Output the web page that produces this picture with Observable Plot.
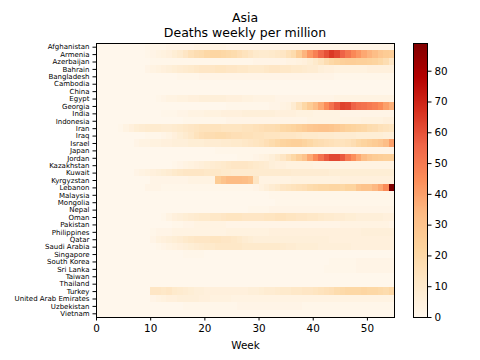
<!DOCTYPE html>
<html><head><meta charset="utf-8">
<script src="https://cdn.jsdelivr.net/npm/d3@7"></script>
<script src="https://cdn.jsdelivr.net/npm/@observablehq/plot@0.6"></script>
<style>
body{margin:0;background:#fff;font-family:"DejaVu Sans",sans-serif;}
#wrap{position:relative;width:480px;height:360px;overflow:hidden;}
#wrap svg{position:absolute;top:0;}
.t{position:absolute;left:0;width:490px;text-align:center;font-size:12.5px;line-height:15px;color:#000;font-family:"DejaVu Sans",sans-serif;}
</style></head><body><div id="wrap"></div>
<script>
const titleText = "Asia";
const subtitleText = "Deaths weekly per million";
const xLabel = "Week";
const xTicks = [0, 10, 20, 30, 40, 50];
const cbTicks = [0, 10, 20, 30, 40, 50, 60, 70, 80];

const countries = ["Afghanistan","Armenia","Azerbaijan","Bahrain","Bangladesh","Cambodia","China","Egypt","Georgia","India","Indonesia","Iran","Iraq","Israel","Japan","Jordan","Kazakhstan","Kuwait","Kyrgyzstan","Lebanon","Malaysia","Mongolia","Nepal","Oman","Pakistan","Philippines","Qatar","Saudi Arabia","Singapore","South Korea","Sri Lanka","Taiwan","Thailand","Turkey","United Arab Emirates","Uzbekistan","Vietnam"];

const afghanistan = [0,0,0,0,0,0,0,0,0,1, 1,1,1,2,2,2,2,2,3,3, 3,3,3,3,2,2,2,2,2,2, 2,2,2,2,2,2,2,2,2,2, 2,2,2,2,2,2,2,2,2,2, 2,2,2,2,2];
const armenia = [0,0,0,0,0,0,0,0,0,1, 2,3,4,5,7,9,12,15,17,18, 20,21,21,20,19,18,16,14,12,10, 9,9,10,11,12,15,18,26,35,42, 48,55,60,65,62,56,51,46,42,38, 35,32,28,26,25];
const azerbaijan = [0,0,0,0,0,0,0,0,0,0, 1,1,1,1,1,1,1,1,1,1, 1,1,1,1,1,1,1,1,1,2, 2,2,2,2,2,3,3,4,5,7, 10,13,17,20,22,24,25,25,24,24, 23,22,20,17,12];
const bahrain = [0,0,0,0,0,0,0,0,0,2, 3,4,5,6,7,8,9,10,11,12, 12,12,13,13,12,12,11,11,10,10, 10,11,12,12,11,11,10,10,9,8, 8,6,5,5,4,4,4,4,4,4, 5,5,5,5,5];
const bangladesh = [0,0,0,0,0,0,0,0,0,0, 0,0,0,0,0,1,1,1,1,2, 2,2,2,2,2,2,2,2,2,2, 2,2,2,2,2,2,2,2,2,2, 2,2,2,2,1,1,1,1,1,1, 1,1,1,1,1];
const cambodia = [0,0,0,0,0,0,0,0,0,0, 0,0,0,0,0,0,0,0,0,0, 0,0,0,0,0,0,0,0,0,0, 0,0,0,0,0,0,0,0,0,0, 0,0,0,0,0,0,0,0,0,0, 0,0,0,0,0];
const china = [0,0,0,0,0,0,0,0,0,0, 0,0,0,0,0,0,0,0,0,0, 0,0,0,0,0,0,0,0,0,0, 0,0,0,0,0,0,0,0,0,0, 0,0,0,0,0,0,0,0,0,0, 0,0,0,0,0];
const egypt = [0,0,0,0,0,0,0,0,0,0, 0,1,2,3,3,4,4,5,5,6, 6,6,6,6,5,5,5,4,4,3, 3,3,3,2,2,2,2,2,2,2, 2,2,2,2,3,3,3,3,3,3, 3,3,3,3,3];
const georgia = [0,0,0,0,0,0,0,0,0,0, 0,0,0,0,0,0,0,0,0,0, 0,0,0,0,1,1,1,1,1,1, 1,1,2,2,3,4,8,14,20,26, 32,38,45,52,58,63,62,56,53,52, 50,48,45,40,36];
const india = [0,0,0,0,0,0,0,0,0,0, 0,0,1,1,1,2,2,3,3,3, 4,4,4,5,5,5,5,6,6,6, 6,6,6,5,5,5,5,4,4,4, 3,3,3,3,3,2,2,2,2,2, 2,2,2,2,2];
const indonesia = [0,0,0,0,0,0,0,0,0,0, 0,0,0,0,0,0,1,1,1,1, 1,1,1,1,2,2,2,2,2,2, 2,2,2,2,2,2,2,2,2,3, 3,3,3,3,3,3,3,3,3,4, 4,4,4,5,5];
const iran = [0,0,0,0,1,3,5,7,8,9, 9,9,8,8,9,10,11,12,13,14, 14,14,14,13,13,13,13,14,14,15, 16,17,17,18,20,21,22,24,26,28, 29,30,30,29,27,25,23,22,21,20, 18,17,15,14,13];
const iraq = [0,0,0,0,0,0,0,0,0,1, 1,1,2,3,5,7,9,11,14,16, 17,17,18,18,17,16,16,15,15,14, 14,13,13,13,12,12,12,11,10,10, 10,9,9,9,8,8,8,8,7,7, 7,7,7,6,6];
const israel = [0,0,0,0,0,0,0,2,3,3, 4,4,5,5,6,6,6,7,7,7, 8,8,8,9,9,10,10,11,12,13, 14,16,18,20,22,23,24,24,22,20, 18,17,16,15,14,14,15,17,20,22, 24,26,28,32,40];
const japan = [0,0,0,0,0,0,0,0,0,0, 0,0,0,0,0,0,0,0,0,0, 0,0,1,1,1,1,1,1,1,1, 1,1,1,1,1,1,1,1,1,1, 1,1,1,1,1,2,2,2,2,2, 2,2,2,2,2];
const jordan = [0,0,0,0,0,0,0,0,0,0, 0,0,0,0,0,0,0,0,0,0, 0,0,0,0,0,0,1,1,1,2, 3,4,6,9,12,16,20,25,30,38, 45,52,58,62,62,58,50,44,38,32, 28,26,25,24,24];
const kazakhstan = [0,0,0,0,0,0,0,0,0,0, 0,0,0,0,1,2,3,4,5,6, 7,8,9,10,11,12,12,12,11,10, 9,8,6,5,5,4,4,4,4,4, 3,3,3,3,3,3,3,3,3,3, 3,3,3,3,3];
const kuwait = [0,0,0,0,0,0,0,2,3,4, 5,6,7,8,10,11,12,12,12,12, 11,11,11,10,10,9,9,9,9,9, 9,9,9,9,9,9,8,8,8,8, 8,8,8,7,7,7,7,7,7,7, 7,7,7,7,7];
const kyrgyzstan = [0,0,0,0,0,0,0,0,0,0, 2,2,2,2,2,2,2,3,3,3, 3,3,26,30,33,33,33,32,30,12, 3,3,3,3,3,3,4,4,4,4, 4,4,4,4,4,5,5,5,5,5, 5,5,5,5,5];
const lebanon = [0,0,0,0,0,0,0,0,0,2, 2,2,1,1,1,1,1,1,1,1, 1,1,1,1,1,1,1,1,1,2, 4,6,8,10,12,13,14,15,16,18, 19,20,20,21,21,20,22,22,28,30, 30,34,38,45,89];
const malaysia = [0,0,0,0,0,0,0,0,0,0, 0,0,0,0,0,0,0,0,0,0, 0,0,0,0,0,0,0,0,0,0, 0,0,1,1,1,1,1,1,1,1, 1,1,1,1,1,1,1,1,1,1, 1,1,1,1,1];
const mongolia = [0,0,0,0,0,0,0,0,0,0, 0,0,0,0,0,0,0,0,0,0, 0,0,0,0,0,0,0,0,0,0, 0,0,0,1,1,1,1,1,1,1, 1,1,1,1,1,1,1,1,1,1, 1,1,1,1,1];
const nepal = [0,0,0,0,0,0,0,0,0,0, 0,0,0,0,0,0,0,0,0,0, 0,0,0,0,0,0,0,0,1,1, 1,1,2,2,2,2,2,2,2,2, 2,2,2,2,2,2,2,2,2,2, 2,2,2,2,2];
const oman = [0,0,0,0,0,0,0,0,0,0, 0,0,1,3,5,6,7,8,9,10, 10,11,11,12,13,13,13,12,12,12, 12,13,13,14,14,13,13,12,12,11, 11,10,9,9,8,8,7,7,6,6, 6,6,6,5,5];
const pakistan = [0,0,0,0,0,0,0,0,0,0, 0,0,0,0,1,1,2,2,3,3, 3,3,3,3,2,2,2,2,2,2, 2,2,2,2,2,2,2,2,2,2, 2,2,2,2,2,3,3,3,3,3, 3,3,3,3,2];
const philippines = [0,0,0,0,0,0,0,0,0,0, 1,2,2,2,3,3,3,3,3,3, 3,3,3,3,4,4,4,4,4,4, 4,4,5,5,5,5,5,5,5,5, 5,5,5,5,5,5,5,5,5,6, 6,6,6,6,6];
const qatar = [0,0,0,0,0,0,0,0,0,0, 2,4,5,6,7,8,10,11,12,12, 12,13,13,12,12,11,10,8,7,6, 6,6,6,6,6,6,6,6,6,6, 6,6,6,5,5,5,5,5,5,5, 5,5,5,5,5];
const saudiArabia = [0,0,0,0,0,0,0,0,0,0, 0,1,2,3,4,5,6,7,8,9, 10,10,11,11,11,11,11,10,10,10, 10,10,10,10,9,8,8,7,7,7, 7,6,6,6,6,6,6,5,5,5, 5,5,5,5,5];
const singapore = [0,0,0,0,0,0,0,0,0,0, 0,0,0,0,0,0,1,1,1,1, 0,0,0,0,0,0,0,0,0,0, 0,0,0,0,0,0,0,0,0,0, 0,0,0,0,0,0,0,0,0,0, 0,0,0,0,0];
const southKorea = [0,0,0,0,0,0,0,0,0,0, 0,0,0,0,0,0,0,0,0,0, 0,0,0,0,0,0,0,0,0,0, 0,0,0,0,0,0,0,0,0,0, 0,0,0,1,1,1,1,1,2,2, 2,2,2,2,2];
const sriLanka = [0,0,0,0,0,0,0,0,0,0, 0,0,0,0,0,0,0,0,0,0, 0,0,0,0,0,0,0,0,0,0, 0,0,0,0,0,0,0,0,0,0, 0,0,1,1,1,1,1,1,2,2, 2,2,2,2,2];
const taiwan = [0,0,0,0,0,0,0,0,0,0, 0,0,0,0,0,0,0,0,0,0, 0,0,0,0,0,0,0,0,0,0, 0,0,0,0,0,0,0,0,0,0, 0,0,0,0,0,0,0,0,0,0, 0,0,0,0,0];
const thailand = [0,0,0,0,0,0,0,0,0,0, 0,0,0,0,0,0,0,0,0,0, 0,0,0,0,0,0,0,0,0,0, 0,0,0,0,0,0,0,0,0,0, 0,0,0,0,0,0,0,0,0,0, 0,0,0,0,0];
const turkey = [0,0,0,0,0,0,0,0,0,0, 12,12,11,12,10,9,8,7,6,6, 5,5,5,5,5,5,5,5,6,6, 7,8,8,9,10,10,11,11,12,12, 13,14,15,16,18,19,20,20,20,21, 20,20,19,18,20];
const uae = [0,0,0,0,0,0,0,0,0,0, 2,3,4,5,5,6,6,6,6,5, 5,4,4,4,4,3,3,3,3,3, 3,3,3,3,3,3,3,3,3,3, 3,3,3,3,3,3,3,3,3,3, 3,3,3,3,3];
const uzbekistan = [0,0,0,0,0,0,0,0,0,0, 0,0,0,0,0,0,1,1,1,1, 1,1,1,1,1,1,2,2,2,2, 2,2,2,2,2,2,2,2,1,1, 1,1,1,1,1,1,1,1,1,1, 1,1,1,1,1];
const vietnam = [0,0,0,0,0,0,0,0,0,0, 0,0,0,0,0,0,0,0,0,0, 0,0,0,0,0,0,0,0,0,0, 0,0,0,0,0,0,0,0,0,0, 0,0,0,0,0,0,0,0,0,0, 0,0,0,0,0];

const series = [afghanistan, armenia, azerbaijan, bahrain, bangladesh, cambodia, china, egypt, georgia, india, indonesia, iran, iraq, israel, japan, jordan, kazakhstan, kuwait, kyrgyzstan, lebanon, malaysia, mongolia, nepal, oman, pakistan, philippines, qatar, saudiArabia, singapore, southKorea, sriLanka, taiwan, thailand, turkey, uae, uzbekistan, vietnam];

const rows = [];
countries.forEach((c, i) => series[i].forEach((v, w) => rows.push({country: c, week: w, value: v})));
const vmax = d3.max(rows, d => d.value);
const orrd = ["#fff7ec","#fee8c8","#fdd49e","#fdbb84","#fc8d59","#ef6548","#d7301f","#b30000","#7f0000"];
const colorOpts = {type: "linear", domain: orrd.map((_, i) => i * vmax / (orrd.length - 1)), range: orrd, interpolate: "rgb"};
const font = {fontFamily: "DejaVu Sans", color: "#000", background: "transparent", overflow: "visible"};

const main = Plot.plot({
  width: 410, height: 360,
  marginLeft: 96, marginRight: 16, marginTop: 43, marginBottom: 43,
  style: font,
  x: {domain: [0, 55], label: null},
  y: {domain: countries, padding: 0, round: false, label: null},
  color: colorOpts,
  marks: [
    Plot.barX(rows, {x1: "week", x2: d => d.week + 1, y: "country", fill: "value", shapeRendering: "crispEdges"}),
    Plot.axisX({ticks: xTicks, tickSize: 3.5, tickPadding: 3.5, fontSize: 10.4, label: xLabel, labelAnchor: "center", labelArrow: "none", labelOffset: 31}),
    Plot.axisY({tickSize: 3.5, tickPadding: 3.5, fontSize: 7, label: null}),
    Plot.frame({stroke: "black", strokeWidth: 1})
  ]
});

const cbStep = vmax / 300;
const cbVals = d3.range(0, vmax, cbStep);
const cb = Plot.plot({
  width: 67, height: 360,
  marginLeft: 0, marginRight: 53, marginTop: 43, marginBottom: 43,
  style: font,
  x: {axis: null, domain: [0, 1]},
  y: {domain: [0, vmax], label: null, axis: null},
  color: colorOpts,
  marks: [
    Plot.rect(cbVals, {x1: 0, x2: 1, y1: d => d, y2: d => d + cbStep * 1.5, fill: d => d, shapeRendering: "crispEdges"}),
    Plot.axisY({anchor: "right", ticks: cbTicks, tickSize: 3.5, tickPadding: 3.5, fontSize: 10.4, label: null}),
    Plot.frame({stroke: "black", strokeWidth: 1})
  ]
});

const wrap = document.getElementById("wrap");
main.style.left = "0px";
cb.style.left = "413px";
wrap.appendChild(main);
wrap.appendChild(cb);
const t1 = document.createElement("div"); t1.className = "t"; t1.style.top = "10px"; t1.textContent = titleText;
const t2 = document.createElement("div"); t2.className = "t"; t2.style.top = "25px"; t2.textContent = subtitleText;
wrap.appendChild(t1); wrap.appendChild(t2);
</script></body></html>
